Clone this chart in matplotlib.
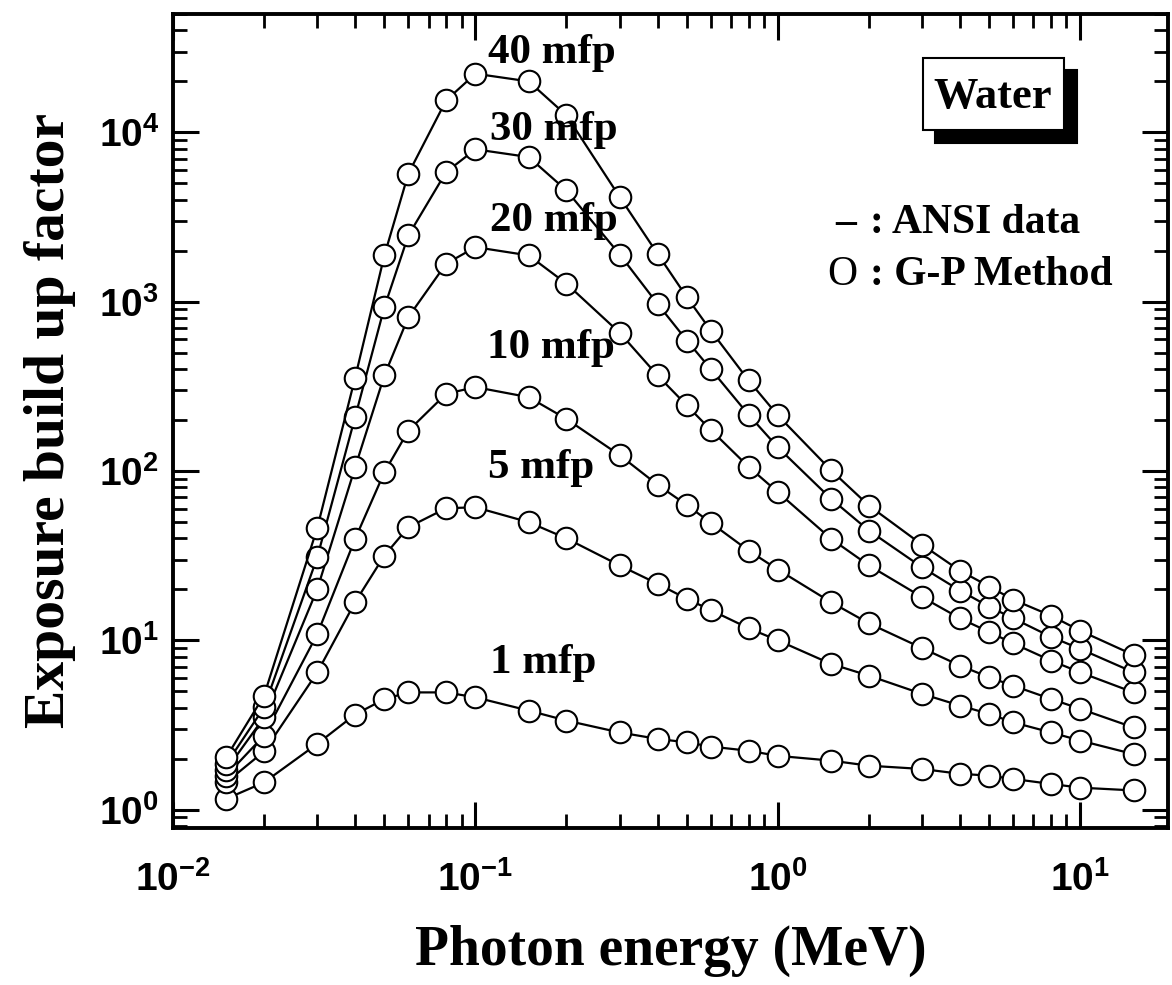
import numpy as np
import matplotlib
matplotlib.use('Agg')
import matplotlib.pyplot as plt
from matplotlib.patches import Rectangle
from matplotlib.ticker import LogLocator, NullFormatter

# ---------------- data ----------------
energy = [0.015, 0.02, 0.03, 0.04, 0.05, 0.06, 0.08, 0.1, 0.15, 0.2, 0.3, 0.4,
          0.5, 0.6, 0.8, 1.0, 1.5, 2.0, 3.0, 4.0, 5.0, 6.0, 8.0, 10.0, 15.0]

b_1mfp = [1.16, 1.45, 2.45, 3.65, 4.5, 4.93, 4.93, 4.61, 3.85, 3.36, 2.86, 2.62,
          2.50, 2.36, 2.23, 2.08, 1.95, 1.82, 1.74, 1.63, 1.59, 1.52, 1.42, 1.35, 1.30]
b_5mfp = [1.45, 2.21, 6.47, 16.8, 31.7, 46.6, 60.3, 61.1, 49.9, 40.0, 27.7, 21.6,
          17.6, 15.1, 11.8, 10.0, 7.26, 6.19, 4.83, 4.12, 3.68, 3.28, 2.86, 2.56, 2.13]
b_10mfp = [1.59, 2.74, 10.9, 39.7, 98.4, 173, 286, 313, 273, 203, 124, 83,
           63, 49.5, 33.9, 26.2, 16.8, 12.6, 9.0, 7.1, 6.05, 5.4, 4.51, 3.94, 3.06]
b_20mfp = [1.72, 3.51, 20.1, 105, 367, 811, 1676, 2100, 1877, 1277, 655, 367,
           244, 175, 106, 75, 39.8, 27.7, 18.0, 13.5, 11.2, 9.6, 7.6, 6.47, 4.93]
b_30mfp = [1.86, 4.02, 31, 208, 929, 2462, 5830, 7940, 7150, 4540, 1900, 972,
           590, 400, 215, 138, 68.5, 44.5, 27, 19.7, 15.8, 13.5, 10.5, 8.9, 6.48]
b_40mfp = [2.04, 4.72, 46.2, 355, 1876, 5700, 15450, 22200, 20000, 12600, 4150, 1920,
           1064, 676, 343, 213, 101, 62.5, 36.7, 25.8, 20.8, 17.4, 14.0, 11.4, 8.2]

series_labels = ['1 mfp', '5 mfp', '10 mfp', '20 mfp', '30 mfp', '40 mfp']
series_values = [b_1mfp, b_5mfp, b_10mfp, b_20mfp, b_30mfp, b_40mfp]
# label anchor positions (axes fraction, left / baseline)
label_x = [0.3186, 0.3166, 0.3156, 0.3186, 0.3186, 0.3166]
label_y = [0.190, 0.4296, 0.577, 0.7338, 0.8452, 0.9398]

x_major = [0.01, 0.1, 1, 10]
x_major_labels = [r'$\mathrm{10^{-2}}$', r'$\mathrm{10^{-1}}$', r'$\mathrm{10^{0}}$', r'$\mathrm{10^{1}}$']
y_major = [1, 10, 100, 1000, 10000]
y_major_labels = [r'$\mathrm{10^{0}}$', r'$\mathrm{10^{1}}$', r'$\mathrm{10^{2}}$',
                  r'$\mathrm{10^{3}}$', r'$\mathrm{10^{4}}$']

# ---------------- style ----------------
plt.rcParams['mathtext.fontset'] = 'custom'
plt.rcParams['mathtext.rm'] = 'Liberation Sans:bold'
plt.rcParams['mathtext.bf'] = 'Liberation Sans:bold'
plt.rcParams['mathtext.it'] = 'Liberation Sans:bold'
plt.rcParams['mathtext.sf'] = 'Liberation Sans:bold'
serif = 'Liberation Serif'

fig = plt.figure(figsize=(11.72, 9.85), dpi=100)
ax = fig.add_axes([173 / 1172, 1 - 828 / 985, 995 / 1172, 814 / 985])

for vals in series_values:
    ax.plot(energy, vals, '-', color='black', lw=1.6, marker='o', ms=15.5,
            mfc='white', mec='black', mew=1.5)

ax.set_xscale('log')
ax.set_yscale('log')
ax.set_xlim(0.01, 19.5)
ax.set_ylim(0.78, 5e4)

ax.set_xticks(x_major, x_major_labels)
ax.set_yticks(y_major, y_major_labels)
ax.xaxis.set_minor_locator(LogLocator(base=10, subs=np.arange(2, 10), numticks=20))
ax.yaxis.set_minor_locator(LogLocator(base=10, subs=np.arange(2, 10), numticks=20))
ax.xaxis.set_minor_formatter(NullFormatter())
ax.yaxis.set_minor_formatter(NullFormatter())

ax.tick_params(which='both', direction='in', top=True, right=True)
ax.tick_params(which='major', length=19, width=2.2, labelsize=28)
ax.tick_params(which='minor', length=10, width=2.0)
ax.tick_params(axis='x', which='major', pad=24)
ax.tick_params(axis='y', which='major', pad=10)
for sp in ax.spines.values():
    sp.set_linewidth(2.8)

ax.set_xlabel('Photon energy (MeV)', fontsize=40, fontweight='bold', family=serif, labelpad=18)
ax.set_ylabel('Exposure build up factor', fontsize=41.5, fontweight='bold', family=serif, labelpad=16)

for lab, lx, ly in zip(series_labels, label_x, label_y):
    ax.text(lx, ly, lab, transform=ax.transAxes, ha='left', va='baseline',
            fontsize=31, fontweight='bold', family=serif)

# "Water" box with shadow
ax.add_patch(Rectangle((0.7658, 0.8415), 0.1427, 0.0897, transform=ax.transAxes,
                       facecolor='black', edgecolor='black', lw=1.5, zorder=5))
ax.add_patch(Rectangle((0.7538, 0.8575), 0.1417, 0.0884, transform=ax.transAxes,
                       facecolor='white', edgecolor='black', lw=1.5, zorder=6))
ax.text(0.8241, 0.884, 'Water', transform=ax.transAxes, ha='center', va='baseline',
        fontsize=32, fontweight='bold', family=serif, zorder=7)

# legend text
ax.text(0.6653, 0.731, '\u2013', transform=ax.transAxes, ha='left', va='baseline',
        fontsize=30, fontweight='bold', family=serif)
ax.text(0.7005, 0.731, ': ANSI data', transform=ax.transAxes, ha='left', va='baseline',
        fontsize=30, fontweight='bold', family=serif)
ax.text(0.6573, 0.667, 'O', transform=ax.transAxes, ha='left', va='baseline',
        fontsize=30, fontweight='normal', family=serif)
ax.text(0.7005, 0.667, ': G-P Method', transform=ax.transAxes, ha='left', va='baseline',
        fontsize=30, fontweight='bold', family=serif)

fig.savefig('out.png', dpi=100)
